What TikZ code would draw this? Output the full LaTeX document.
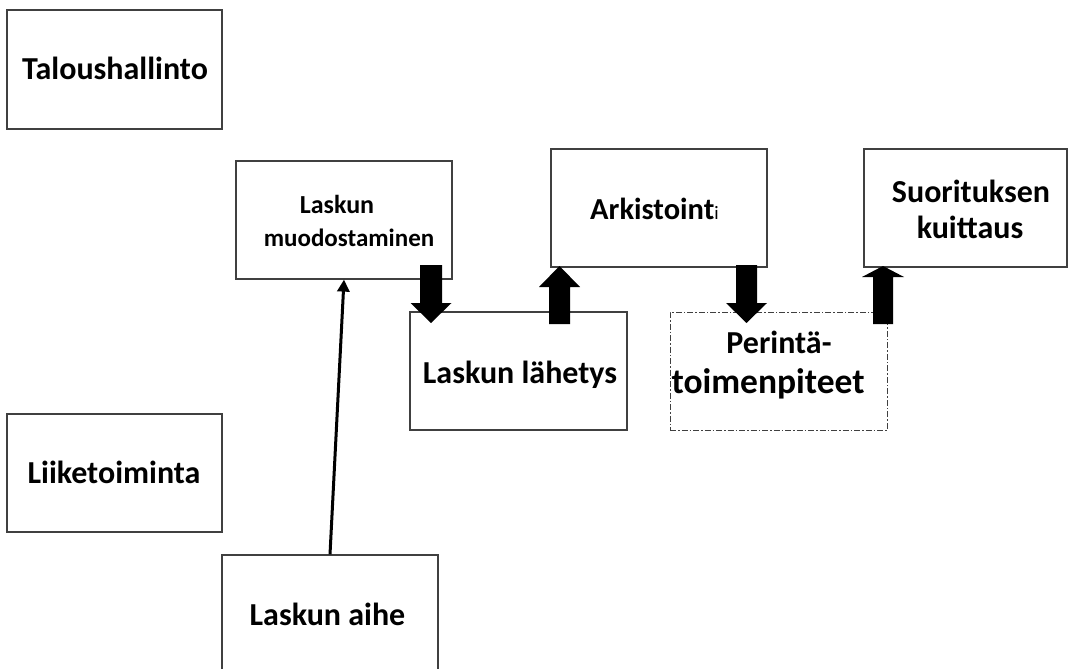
\documentclass[tikz,border=0pt]{standalone}
\usepackage{fontspec}
\setmainfont{Carlito}
\usetikzlibrary{arrows.meta}
\definecolor{boxline}{HTML}{404040}
\tikzset{
  box/.style={draw=boxline, line width=1.2pt, inner sep=0pt, fill=none},
  dashbox/.style={draw=boxline, line width=0.8pt, inner sep=0pt, dash pattern=on 6pt off 2pt on 1.5pt off 2pt},
  big/.style={font=\fontsize{32}{38}\selectfont\bfseries, inner sep=0pt},
  mid/.style={font=\fontsize{25}{30}\selectfont\bfseries, inner sep=0pt},
  blk/.style={fill=black},
  thinarrow/.style={line width=3pt, -{Triangle[length=12pt,width=12pt]}}
}
\begin{document}
\begin{tikzpicture}[x=1pt,y=-1pt]
\useasboundingbox (0,0) rectangle (1068,669);
\clip (0,0) rectangle (1068,669);
% boxes
\node[box, minimum width=215pt, minimum height=119pt] (talous) at (114.5,69.5) {};
\node[box, minimum width=215pt, minimum height=118pt] (liike) at (114.5,473) {};
\node[box, minimum width=216pt, minimum height=118pt] (aihe) at (330,614) {};
\node[box, minimum width=216pt, minimum height=118pt] (muod) at (344,220) {};
\node[box, minimum width=217pt, minimum height=118pt] (lahetys) at (518.5,371) {};
\node[box, minimum width=216pt, minimum height=118pt] (arkisto) at (659,208) {};
\node[box, minimum width=203pt, minimum height=118pt] (suoritus) at (965.5,208) {};
\node[dashbox, minimum width=217pt, minimum height=118pt] (perinta) at (778.5,371) {};
% texts
\node[big, anchor=base] (talous-t) at (115,80) {Taloushallinto};
\node[big, anchor=base] (liike-t) at (114,483) {Liiketoiminta};
\node[big, anchor=base] (aihe-t) at (327.5,625) {Laskun aihe};
\node[mid, anchor=base, font=\fontsize{26}{30}\selectfont\bfseries] (muod-t1) at (337,213) {Laskun};
\node[mid, anchor=base] (muod-t2) at (349,246) {muodostaminen};
\node[big, anchor=base] (lahetys-t) at (520,383) {Laskun lähetys};
\node[big, anchor=base west, font=\fontsize{30.5}{36}\selectfont\bfseries] (arkisto-t) at (590,219) {Arkistoint{\fontsize{19}{24}\selectfont\mdseries i}};
\node[big, anchor=base] (suoritus-t1) at (971,202) {Suorituksen};
\node[big, anchor=base] (suoritus-t2) at (970,238) {kuittaus};
\node[big, anchor=base] (perinta-t1) at (779,353) {Perintä-};
\node[big, anchor=base, font=\fontsize{35.5}{40}\selectfont\bfseries] (perinta-t2) at (768,393) {toimenpiteet};
% thin arrow
\draw[thinarrow] (aihe.north) -- (muod.south);
% block arrows
\coordinate (a1) at (431,265);
\fill[blk] (a1) ++(-11,0) -- ++(0,38) -- ++(-9.5,0) -- ++(20.5,20) -- ++(20.5,-20) -- ++(-9.5,0) -- ++(0,-38) -- cycle;
\coordinate (a2) at (559.5,324);
\fill[blk] (a2) ++(-10.5,0) -- ++(0,-37) -- ++(-10,0) -- ++(20.5,-21) -- ++(20.5,21) -- ++(-10,0) -- ++(0,37) -- cycle;
\coordinate (a3) at (746.5,265);
\fill[blk] (a3) ++(-10.5,0) -- ++(0,38) -- ++(-10,0) -- ++(20.5,20) -- ++(20.5,-20) -- ++(-10,0) -- ++(0,-38) -- cycle;
\coordinate (a4) at (883,324);
\fill[blk] (a4) ++(-10,0) -- ++(0,-47) -- ++(-11,0) -- ++(21,-11) -- ++(21,11) -- ++(-11,0) -- ++(0,47) -- cycle;
\end{tikzpicture}
\end{document}
